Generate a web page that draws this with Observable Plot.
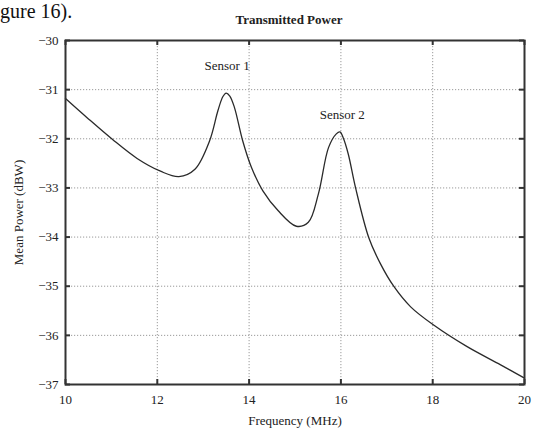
<!DOCTYPE html>
<html>
<head>
<meta charset="utf-8">
<script src="https://cdn.jsdelivr.net/npm/d3@7"></script>
<script src="https://cdn.jsdelivr.net/npm/@observablehq/plot@0.6"></script>
<style>
  html, body { margin: 0; padding: 0; background: #fff; }
  #wrap { position: relative; width: 534px; height: 428px; overflow: hidden; font-family: "Liberation Serif", "DejaVu Serif", serif; }
  #frag { position: absolute; left: 0; top: 0; font-size: 20px; line-height: 22px; color: #111; white-space: nowrap; }
  #title { position: absolute; left: 0; width: 578px; top: 12px; text-align: center; font-size: 13px; font-weight: bold; color: #222; }
  #chart { position: absolute; left: 0; top: 0; }
</style>
</head>
<body>
<div id="wrap">
  <div id="chart"></div>
  <div id="frag">gure 16).</div>
  <div id="title">Transmitted Power</div>
</div>
<script>
// Frequency (MHz) and mean power (dBW)
const freq = [10.00, 10.47, 11.02, 11.56, 12.07, 12.47, 12.82, 13.14, 13.32, 13.43, 13.50, 13.58, 13.68, 13.86, 14.05, 14.30, 14.63, 15.03, 15.29, 15.51, 15.73, 15.90, 15.98, 16.05, 16.16, 16.32, 16.61, 16.86, 17.15, 17.52, 18.02, 18.75, 19.48, 20.00];
const power = [-31.18, -31.57, -32.01, -32.40, -32.66, -32.77, -32.62, -32.04, -31.43, -31.14, -31.07, -31.13, -31.36, -32.04, -32.58, -33.06, -33.46, -33.78, -33.70, -33.12, -32.18, -31.90, -31.86, -31.98, -32.31, -33.00, -34.02, -34.54, -35.00, -35.42, -35.79, -36.23, -36.60, -36.87];

const xTicks = [10, 12, 14, 16, 18, 20];
const yTicks = [-37, -36, -35, -34, -33, -32, -31, -30];

const labelText = ["Sensor 1", "Sensor 2"];
const labelFreq = [13.52, 16.03];
const labelPower = [-30.51, -31.51];

const data = freq.map((f, i) => ({f, p: power[i]}));
const labels = labelText.map((t, i) => ({t, f: labelFreq[i], p: labelPower[i]}));

const W = 534, H = 428;
const mL = 65, mR = 10, mT = 40, mB = 44;
const innerW = W - mL - mR, innerH = H - mT - mB;
const ink = "#333";

const chart = Plot.plot({
  width: W,
  height: H,
  marginLeft: mL,
  marginRight: mR,
  marginTop: mT,
  marginBottom: mB,
  style: {fontFamily: "'Liberation Serif', 'DejaVu Serif', serif", fontSize: "13px", color: "#222", background: "#fff"},
  x: {domain: [10, 20]},
  y: {domain: [-37, -30]},
  marks: [
    Plot.gridX(xTicks, {stroke: "#9a9a9a", strokeOpacity: 1, strokeDasharray: "1.2,1.8", strokeWidth: 1}),
    Plot.gridY(yTicks, {stroke: "#9a9a9a", strokeOpacity: 1, strokeDasharray: "1.2,1.8", strokeWidth: 1}),
    // inward ticks on all four sides
    Plot.tickY(yTicks, {y: d => d, insetRight: innerW - 5, stroke: ink, strokeWidth: 2}),
    Plot.tickY(yTicks, {y: d => d, insetLeft: innerW - 5, stroke: ink, strokeWidth: 2}),
    Plot.tickX(xTicks, {x: d => d, insetTop: innerH - 5, stroke: ink, strokeWidth: 2}),
    Plot.tickX(xTicks, {x: d => d, insetBottom: innerH - 5, stroke: ink, strokeWidth: 2}),
    Plot.axisY(yTicks, {tickSize: 0, tickPadding: 7, label: "Mean Power (dBW)", labelAnchor: "center", labelArrow: "none", labelOffset: 52}),
    Plot.axisX(xTicks, {tickSize: 0, tickPadding: 10, label: "Frequency (MHz)", labelAnchor: "center", labelArrow: "none", labelOffset: 40}),
    Plot.line(data, {x: "f", y: "p", curve: "catmull-rom", stroke: "#2a2a2a", strokeWidth: 1.3}),
    Plot.text(labels, {x: "f", y: "p", text: "t", fill: "#222", fontSize: 13}),
    Plot.frame({stroke: ink, strokeWidth: 2})
  ]
});
document.getElementById("chart").appendChild(chart);
</script>
</body>
</html>
